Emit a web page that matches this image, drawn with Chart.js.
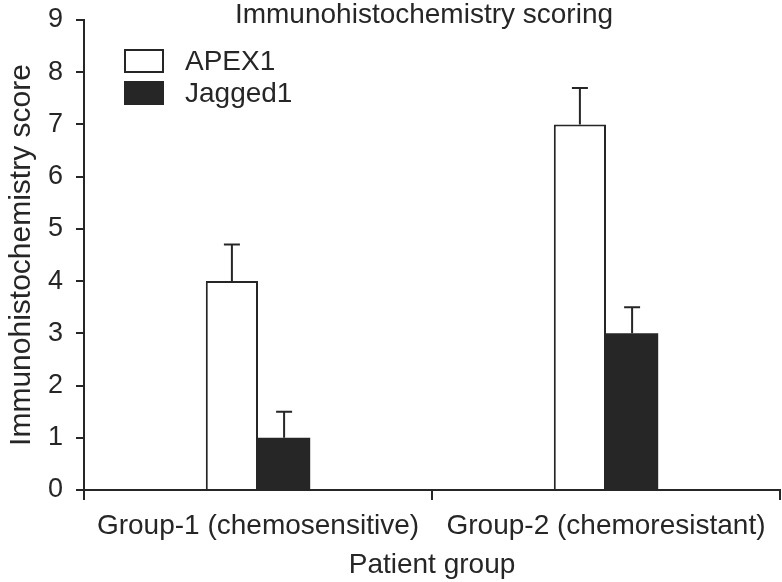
<!DOCTYPE html>
<html>
<head>
<meta charset="utf-8">
<title>Immunohistochemistry scoring</title>
<script src="https://cdn.jsdelivr.net/npm/chart.js@4.4.1/dist/chart.umd.min.js"></script>
<style>
  html, body { margin: 0; padding: 0; background: #fff; }
  #wrap { width: 782px; height: 582px; position: relative; }
</style>
</head>
<body>
<div id="wrap"><canvas id="scoreChart"></canvas></div>
<script>
// データ
const groups = ["Group-1 (chemosensitive)", "Group-2 (chemoresistant)"];
const apexScores = [4.0, 7.0];
const apexErrors = [0.7, 0.7];
const jaggedScores = [1.0, 3.0];
const jaggedErrors = [0.5, 0.5];
const yTicks = [0, 1, 2, 3, 4, 5, 6, 7, 8, 9];

const FONT = "'Liberation Sans', Arial, sans-serif";
const INK = "#262626";

// エラーバー（上側のみ）
const errorBarPlugin = {
  id: "errorBars",
  afterDatasetsDraw(chart) {
    const ctx = chart.ctx;
    const y = chart.scales.y;
    ctx.save();
    ctx.strokeStyle = INK;
    ctx.lineWidth = 2;
    chart.data.datasets.forEach((ds, i) => {
      const meta = chart.getDatasetMeta(i);
      meta.data.forEach((bar, j) => {
        const top = y.getPixelForValue(ds.data[j]);
        const end = y.getPixelForValue(ds.data[j] + ds.errors[j]);
        ctx.beginPath();
        ctx.moveTo(bar.x, top);
        ctx.lineTo(bar.x, end);
        ctx.moveTo(bar.x - 8, end);
        ctx.lineTo(bar.x + 8, end);
        ctx.stroke();
      });
    });
    ctx.restore();
  },
};

// タイトルと凡例（プロット内）
const overlayPlugin = {
  id: "overlay",
  afterDraw(chart) {
    const ctx = chart.ctx;
    ctx.save();
    ctx.fillStyle = INK;
    ctx.font = "28px " + FONT;
    ctx.textAlign = "center";
    ctx.textBaseline = "alphabetic";
    ctx.fillText("Immunohistochemistry scoring", 424, 23);

    ctx.font = "28px " + FONT;
    ctx.textAlign = "left";
    ctx.textBaseline = "middle";
    chart.data.datasets.forEach((ds, i) => {
      const top = 50 + i * 32;
      ctx.fillStyle = ds.backgroundColor;
      ctx.fillRect(125, top, 38, 22);
      ctx.strokeStyle = INK;
      ctx.lineWidth = 2;
      ctx.strokeRect(125, top, 38, 22);
      ctx.fillStyle = INK;
      ctx.fillText(ds.label, 185, top + 12);
    });
    ctx.restore();
  },
};

function drawChart() {
  const ctx = document.getElementById("scoreChart");
  new Chart(ctx, {
    type: "bar",
    data: {
      labels: groups,
      datasets: [
        {
          label: "APEX1",
          data: apexScores,
          errors: apexErrors,
          backgroundColor: "#ffffff",
          borderColor: INK,
          borderWidth: 2,
        },
        {
          label: "Jagged1",
          data: jaggedScores,
          errors: jaggedErrors,
          backgroundColor: INK,
          borderColor: INK,
          borderWidth: 0,
        },
      ],
    },
    options: {
      responsive: true,
      maintainAspectRatio: false,
      animation: false,
      categoryPercentage: 0.3,
      barPercentage: 1.0,
      layout: { padding: { top: 20, right: 2, left: 0, bottom: 0 } },
      plugins: {
        legend: { display: false },
        title: { display: false },
        tooltip: { enabled: false },
      },
      scales: {
        x: {
          afterFit(scale) {
            scale.height = 92;
            scale.paddingLeft = 0;
            scale.paddingRight = 0;
          },
          grid: {
            offset: true,
            drawOnChartArea: false,
            tickLength: 10,
            color: INK,
            lineWidth: 2,
          },
          border: { color: INK, width: 2 },
          ticks: {
            color: INK,
            font: { family: FONT, size: 28 },
            padding: 9,
          },
          title: {
            display: true,
            text: "Patient group",
            color: INK,
            font: { family: FONT, size: 28 },
            padding: { top: 4, bottom: 0 },
          },
        },
        y: {
          min: 0,
          max: 9,
          afterFit(scale) {
            scale.width = 84;
            scale.paddingTop = 0;
            scale.paddingBottom = 0;
          },
          afterBuildTicks(scale) {
            scale.ticks = yTicks.map((v) => ({ value: v }));
          },
          grid: {
            drawOnChartArea: false,
            tickLength: 8,
            color: INK,
            lineWidth: 2,
          },
          border: { color: INK, width: 2 },
          ticks: {
            color: INK,
            font: { family: FONT, size: 27 },
            padding: 13,
          },
          title: {
            display: true,
            text: "Immunohistochemistry score",
            color: INK,
            font: { family: FONT, size: 30 },
            padding: { bottom: 0 },
          },
        },
      },
    },
    plugins: [errorBarPlugin, overlayPlugin],
  });
}

document.addEventListener("DOMContentLoaded", drawChart);
</script>
</body>
</html>
